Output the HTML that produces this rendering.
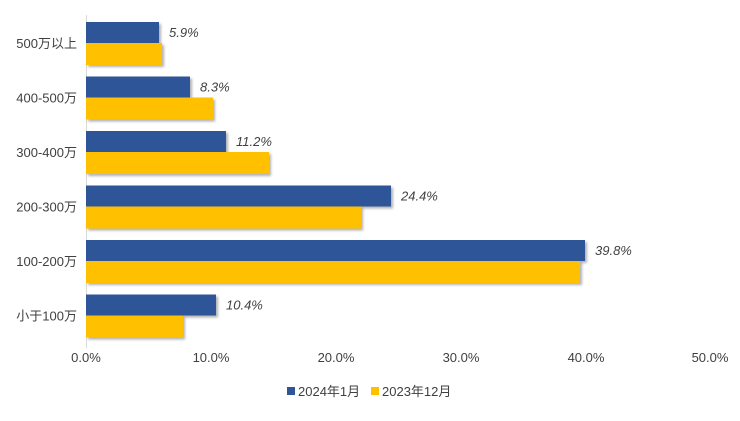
<!DOCTYPE html>
<html><head><meta charset="utf-8"><style>
body{margin:0;background:#fff}
svg text{font-family:"Liberation Sans","Noto Sans CJK SC",sans-serif;fill:#404040}
</style></head><body>
<svg width="740" height="416" xmlns="http://www.w3.org/2000/svg">
<defs><filter id="s" x="-5%" y="-20%" width="115%" height="160%"><feDropShadow dx="2" dy="2" stdDeviation="1.2" flood-color="#000" flood-opacity="0.3"/></filter></defs>
<line x1="86.5" y1="15" x2="86.5" y2="348" stroke="#d9d9d9"/>
<g filter="url(#s)">
<rect x="86" y="22" width="73" height="21" fill="#2F5597"/><rect x="86" y="43" width="76" height="22" fill="#FFC000"/>
<rect x="86" y="76.5" width="104" height="21" fill="#2F5597"/><rect x="86" y="97.5" width="127" height="22" fill="#FFC000"/>
<rect x="86" y="131" width="140" height="21" fill="#2F5597"/><rect x="86" y="152" width="183" height="22" fill="#FFC000"/>
<rect x="86" y="185.5" width="305" height="21" fill="#2F5597"/><rect x="86" y="206.5" width="275" height="22" fill="#FFC000"/>
<rect x="86" y="240" width="499" height="21" fill="#2F5597"/><rect x="86" y="261" width="494" height="22" fill="#FFC000"/>
<rect x="86" y="294.5" width="130" height="21" fill="#2F5597"/><rect x="86" y="315.5" width="97" height="22" fill="#FFC000"/>
</g>
<g font-size="13" text-anchor="end">
<text x="77" y="48">500万以上</text><text x="77" y="102.5">400-500万</text><text x="77" y="157">300-400万</text>
<text x="77" y="211.5">200-300万</text><text x="77" y="266">100-200万</text><text x="77" y="320.5">小于100万</text>
</g>
<g font-size="13" font-style="italic">
<text x="169" y="37">5.9%</text><text x="200" y="91.5">8.3%</text><text x="236" y="146">11.2%</text>
<text x="401" y="200.5">24.4%</text><text x="595" y="255">39.8%</text><text x="226" y="309.5">10.4%</text>
</g>
<g font-size="13" text-anchor="middle">
<text x="86" y="362">0.0%</text><text x="211" y="362">10.0%</text><text x="336" y="362">20.0%</text>
<text x="461" y="362">30.0%</text><text x="586" y="362">40.0%</text><text x="710" y="362">50.0%</text>
</g>
<rect x="287" y="387" width="8" height="8" fill="#2F5597"/>
<text x="298" y="396" font-size="13">2024年1月</text>
<rect x="371" y="387" width="8" height="8" fill="#FFC000"/>
<text x="382" y="396" font-size="13">2023年12月</text>
</svg>
</body></html>
